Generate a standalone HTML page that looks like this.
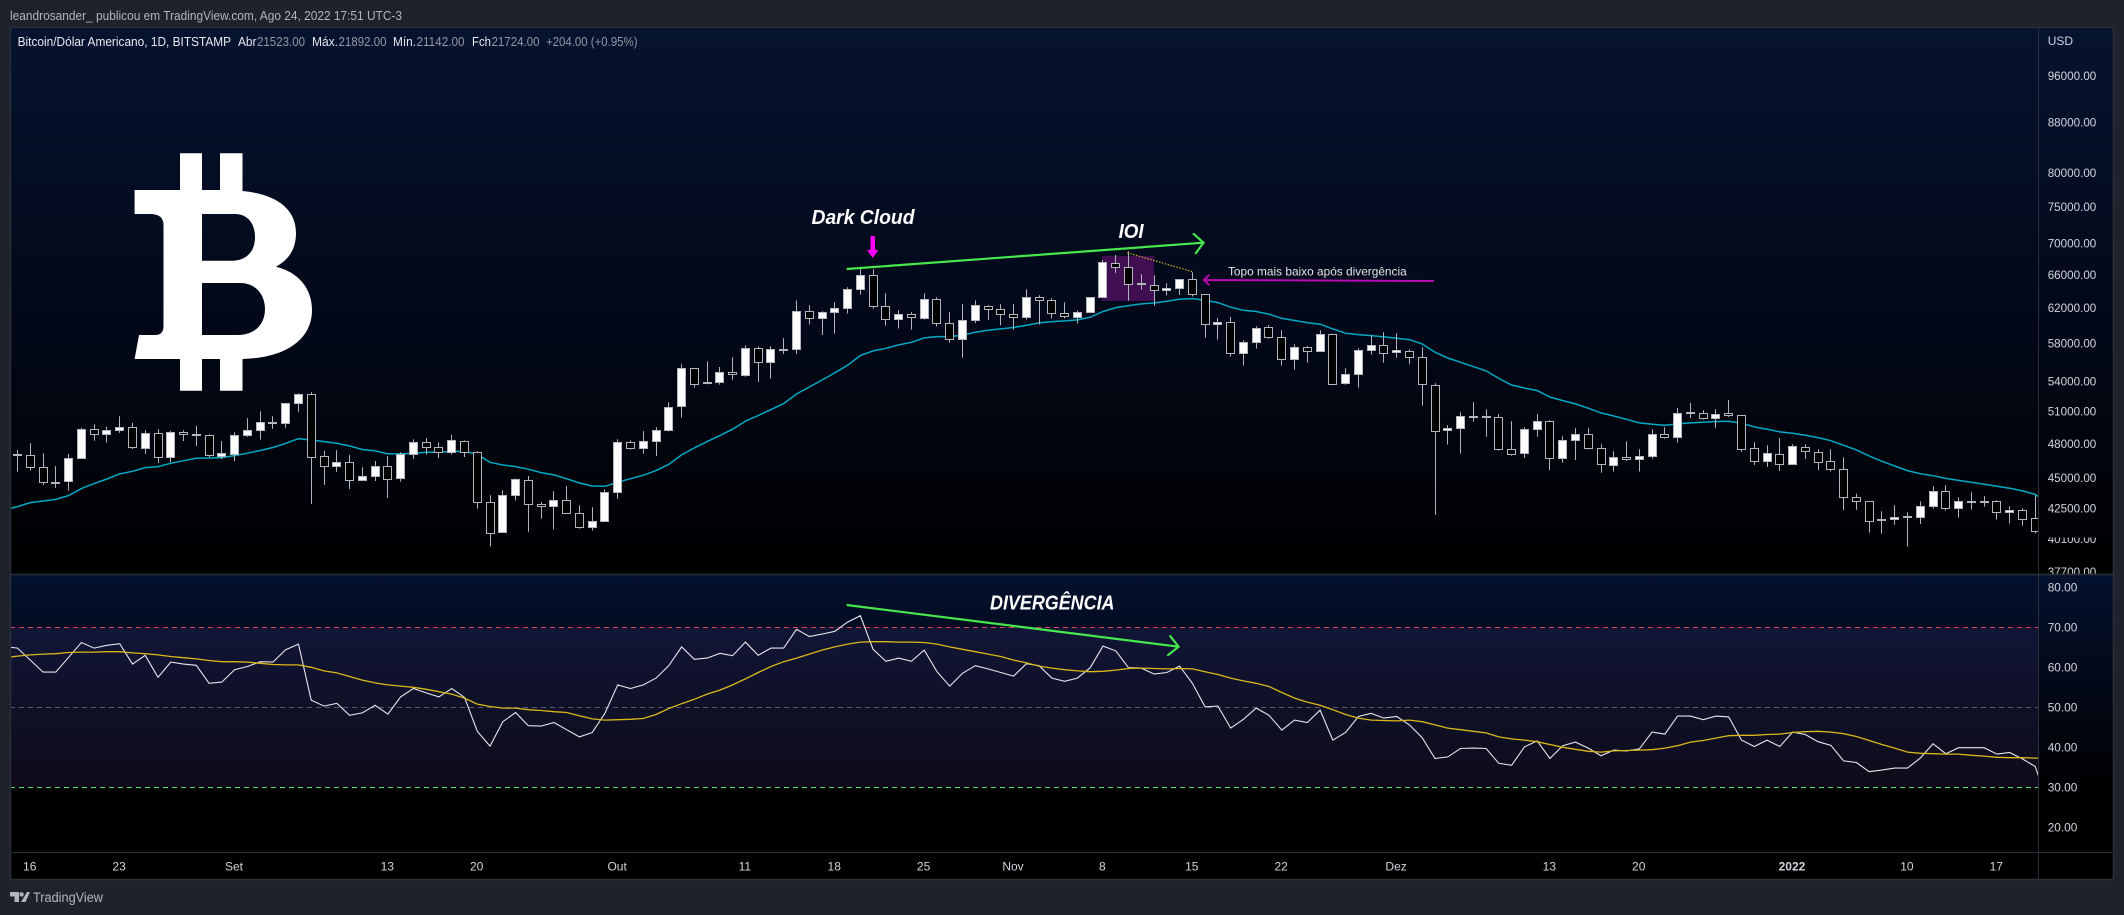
<!DOCTYPE html>
<html lang="pt">
<head>
<meta charset="utf-8">
<title>BTC/USD daily chart with RSI</title>
<style>
html,body{margin:0;padding:0;background:#1e222d;width:2124px;height:915px;overflow:hidden}
svg{display:block;font-family:"Liberation Sans",sans-serif}
</style>
</head>
<body>
<svg id="chart" xmlns="http://www.w3.org/2000/svg" width="2124" height="915" viewBox="0 0 2124 915">
<defs>
<linearGradient id="mainGrad" gradientUnits="userSpaceOnUse" x1="0" y1="27" x2="0" y2="574"><stop offset="0" stop-color="#06132f"/><stop offset="0.55" stop-color="#020818"/><stop offset="1" stop-color="#000"/></linearGradient>
<linearGradient id="rsiGrad" gradientUnits="userSpaceOnUse" x1="0" y1="574" x2="0" y2="853"><stop offset="0" stop-color="#04112e"/><stop offset="0.8" stop-color="#000"/><stop offset="1" stop-color="#000"/></linearGradient>
<clipPath id="plotClip"><rect x="10" y="28" width="2028" height="825"/></clipPath>
<clipPath id="mainClip"><rect x="10" y="28" width="2104" height="546"/></clipPath>
</defs>
<rect x="0" y="0" width="2124" height="915" fill="#1e222d"/>
<text x="10" y="20" font-size="13" fill="#b2b5be" textLength="392" lengthAdjust="spacingAndGlyphs">leandrosander_ publicou em TradingView.com, Ago 24, 2022 17:51 UTC-3</text>
<rect x="10" y="27" width="2104" height="547" fill="url(#mainGrad)"/>
<rect x="10" y="574" width="2104" height="279" fill="url(#rsiGrad)"/>
<rect x="10" y="853" width="2104" height="26" fill="#000"/>
<rect x="10" y="627.3" width="2028" height="160" fill="#7e57c2" fill-opacity="0.12"/>
<path fill="#fff" fill-rule="evenodd" d="M134.6,190 L180,190 L180,153.3 L202,153.3 L202,190 L220,190 L220,153.3 L242.5,153.3 L242.5,191 C275,194 296,208 296,233 C296,250 288,260 276,266.7 C298,272 312,288 312,310 C312,340 285,358 242.5,359 L242.5,390.7 L220,390.7 L220,359 L202,359 L202,390.7 L180,390.7 L180,359 L134.6,359 L139,335 L155,335 Q163.5,335 163.5,326 L163.5,225 Q163.5,214 150,214 L134.6,214 Z M202,214 L235,214 C248,214 255,224 255,237 C255,252 246,260.7 232,260.7 L202,260.7 Z M202,283 L240,283 C256,283 265,295 265,309 C265,325 254,335 238,335 L202,335 Z"/>
<g clip-path="url(#plotClip)">
<rect x="1102" y="256" width="52" height="45" fill="#3f0f52"/>
<line x1="10" y1="627.5" x2="2038" y2="627.5" stroke="#e0425a" stroke-width="1" stroke-dasharray="5 4"/>
<line x1="10" y1="707.5" x2="2038" y2="707.5" stroke="#5a5570" stroke-width="1" stroke-dasharray="5 4"/>
<line x1="10" y1="787.5" x2="2038" y2="787.5" stroke="#4be570" stroke-width="1" stroke-dasharray="5 4"/>
<g id="emaLayer"></g>
<g id="candleLayer"></g>
<g id="rsiLayer"></g>
</g>
<g id="priceAxis" clip-path="url(#mainClip)"></g>
<rect x="2040" y="526" width="72" height="11.5" fill="#010206"/>
<g id="rsiAxis"></g>
<g id="timeAxis"></g>
<text x="2047.7" y="45" font-size="12" fill="#d1d4dc">USD</text>
<rect x="10.5" y="27.5" width="2103" height="852" fill="none" stroke="#2a2e39" stroke-width="1.5"/>
<line x1="10" y1="574.5" x2="2114" y2="574.5" stroke="#2a2e39" stroke-width="1.5"/>
<line x1="10" y1="852.5" x2="2114" y2="852.5" stroke="#2a2e39"/>
<line x1="2038.5" y1="27" x2="2038.5" y2="879" stroke="#2a2e39"/>
<g font-size="12.5">
<text x="17.6" y="46" fill="#e8e9ee" textLength="213.5" lengthAdjust="spacingAndGlyphs">Bitcoin/Dólar Americano, 1D, BITSTAMP</text>
<text x="238" y="46" fill="#e8e9ee" textLength="18.5" lengthAdjust="spacingAndGlyphs">Abr</text>
<text x="257" y="46" fill="#9598a1" textLength="48" lengthAdjust="spacingAndGlyphs">21523.00</text>
<text x="312" y="46" fill="#e8e9ee" textLength="26" lengthAdjust="spacingAndGlyphs">Máx.</text>
<text x="338.5" y="46" fill="#9598a1" textLength="48" lengthAdjust="spacingAndGlyphs">21892.00</text>
<text x="393" y="46" fill="#e8e9ee" textLength="23" lengthAdjust="spacingAndGlyphs">Mín.</text>
<text x="416.5" y="46" fill="#9598a1" textLength="48" lengthAdjust="spacingAndGlyphs">21142.00</text>
<text x="472" y="46" fill="#e8e9ee" textLength="19" lengthAdjust="spacingAndGlyphs">Fch</text>
<text x="491.5" y="46" fill="#9598a1" textLength="48" lengthAdjust="spacingAndGlyphs">21724.00</text>
<text x="546" y="46" fill="#9598a1" textLength="91.5" lengthAdjust="spacingAndGlyphs">+204.00 (+0.95%)</text>
</g>
<g>
<text x="811.5" y="224" font-size="20" font-weight="bold" font-style="italic" fill="#fff" textLength="103" lengthAdjust="spacingAndGlyphs">Dark Cloud</text>
<text x="1118.6" y="238" font-size="20" font-weight="bold" font-style="italic" fill="#fff" textLength="25" lengthAdjust="spacingAndGlyphs">IOI</text>
<path d="M870.5,236 H875 V250 H878.5 L872.7,258 L867,250 H870.5 Z" fill="#ff00ff"/>
<path d="M846.7,269 L1203.5,242.7 M1193,233.3 L1203.5,242.7 L1195.3,254" fill="none" stroke="#46e84e" stroke-width="2.2"/>
<line x1="1127.3" y1="252.7" x2="1192.3" y2="271.7" stroke="#c9b02a" stroke-width="1.2" stroke-dasharray="1.5 1.5"/>
<path d="M1434,281 L1204,280 M1209.3,274.7 L1204,280 L1209.3,285.3" fill="none" stroke="#b60cb0" stroke-width="2"/>
<text x="1228" y="275.5" font-size="12" fill="#e4e4e8" textLength="178.7" lengthAdjust="spacingAndGlyphs">Topo mais baixo após divergência</text>
</g>
<g>
<path d="M846.7,605 L1178.6,646.7 M1169.6,635.3 L1178.6,646.7 L1167.3,655.7" fill="none" stroke="#46e84e" stroke-width="2.2"/>
<text x="990" y="609.5" font-size="20" font-weight="bold" font-style="italic" fill="#fff" textLength="124.5" lengthAdjust="spacingAndGlyphs">DIVERGÊNCIA</text>
</g>
<g>
<path fill="#b2b5be" d="M10,892 H19 V902 H14.5 V896.5 H10 Z M27,892 H30 L25.5,902 H21 Z"/>
<circle cx="21.6" cy="894.4" r="2.2" fill="#b2b5be"/>
<text x="33" y="902" font-size="13.5" fill="#b2b5be" textLength="70" lengthAdjust="spacingAndGlyphs">TradingView</text>
</g>
</svg>
<script>
// Candles start at bar index -1 (0 = Aug 16 2021)
const openPrices = [
46910,46910,45860,44610,44660,46640,49300,48810,49180,49490,
47530,48930,46730,49020,48840,48740,46820,47000,48710,49180,
49950,49860,51770,52660,46850,45950,46320,44750,45090,45980,
44920,47000,48100,47650,47180,48190,47210,42930,40570,43530,
44770,42770,42610,43090,42050,40960,41420,43750,48100,47530,
48160,49180,51450,55300,53860,53820,54890,54540,57430,55890,
57320,57320,61580,60740,61430,61930,64190,65900,62130,60620,
61240,60740,62980,60200,58400,60540,62170,61820,61240,60850,
63220,62860,61320,60850,61430,63220,67400,66900,64880,64640,
64070,64270,65400,63590,60090,60280,56850,58040,59760,58590,
56210,57500,57070,58930,53720,54640,57210,57720,57000,57070,
56460,53560,49210,49400,50520,50520,50430,47480,47120,49270,
50050,46670,48280,48840,47570,46060,46760,46550,46820,48840,
48530,50840,50810,50300,50810,50620,47570,46380,47030,46120,
47650,47210,46410,45720,43360,43030,41600,41580,41790,41740,
42610,43860,42450,43060,43060,43030,42130,42320,41680];
const highPrices = [
47420,48010,47120,45980,47060,49430,49770,49520,50520,49890,
49210,49300,49150,49210,49610,48840,48220,49020,50330,51000,
50520,51770,52760,52860,47330,47390,46970,45890,46430,46880,
47210,48370,48470,48100,48780,48280,47300,43530,43940,44940,
45140,42960,43860,44300,42720,42560,44020,48370,48280,49120,
49490,51870,55720,55300,56030,55440,56460,57750,57610,57650,
58520,62860,62280,61580,62630,64430,66780,66650,63710,61700,
61470,63710,63220,61470,62400,62860,62280,62400,62400,64190,
63470,63100,62630,61660,63220,67820,68470,68950,66030,65900,
64920,65400,66280,63590,60810,60920,58290,59870,59980,59420,
57860,57650,59420,59040,55300,57430,58860,59190,59080,57320,
57540,53760,49670,50910,51870,51190,50730,50050,49490,50750,
50140,48650,49400,49400,47920,47300,48190,47480,49300,49490,
51320,51800,51100,51190,52090,50620,48100,47830,48470,47920,
47920,47480,47480,46760,43670,43030,42240,42720,42160,43030,
44270,44360,43360,43780,43450,43110,42640,42480,43530];
const lowPrices = [
45520,45600,44390,44140,43910,46640,48250,48070,48960,47500,
47060,46260,46320,48220,47770,46790,46610,46430,48590,48340,
49330,49430,50940,42820,44390,45490,44050,44750,44720,43310,
44660,46610,47000,46700,47000,46790,42450,39510,40570,43090,
40630,41660,40810,42050,40880,40730,41420,43250,47450,47090,
46880,49090,50390,53320,53660,53620,54120,54440,53920,54230,
56820,56820,60060,58890,59040,61320,63550,61890,59940,59610,
59490,60620,59830,58040,56420,60210,60580,59980,59490,60620,
60060,60740,60740,60170,61430,63220,66190,62820,64150,62240,
63430,63510,63310,58590,58370,56530,55580,57390,58480,55580,
55160,55890,57070,53560,53620,53320,56750,55890,56420,55720,
51550,41950,47900,47090,50020,48620,47360,46910,46700,48620,
45660,46290,46520,47450,45430,45520,46460,45520,46640,48430,
48070,50360,50200,49430,50460,47240,46090,45920,45570,46120,
46610,45660,45520,42350,42350,40570,40500,41190,39510,41240,
42450,42290,41740,42370,42610,41580,41270,41110,40500];
const closePrices = [
47030,45860,44580,44500,46670,49300,48810,49210,49490,47630,
48930,46730,49020,48810,48710,46910,47120,48740,49210,49950,
49830,51770,52660,46730,45950,46320,44750,45110,45980,44830,
47030,48100,47630,47180,48280,47180,42930,40500,43530,44860,
42770,42610,43090,42050,40960,41420,43780,48100,47530,48190,
49180,51390,55300,53660,53720,54890,54640,57430,55890,57320,
57290,61580,60740,61470,61930,64190,65900,62130,60660,61240,
60850,62980,60200,58400,60540,62280,61820,61240,60850,63220,
62860,61320,60970,61430,63220,67530,66900,64760,64800,64030,
64270,65400,63550,60060,60280,56850,58040,59640,58630,56210,
57500,57110,58930,53620,54640,57180,57720,56850,57180,56460,
53660,49090,49400,50490,50430,50430,47480,47000,49300,50050,
46670,48280,48840,47540,46120,46760,46550,46850,48840,48560,
50810,50780,50270,50710,50620,47450,46380,47120,46120,47740,
47270,46290,45690,43330,43010,41420,41500,41760,41740,42640,
43860,42450,43030,43010,43010,42130,42320,41580,40650];
// Line series start at bar index -2
const emaValues = [
42350,42610,42930,43060,43190,43500,44080,44500,44890,45320,
45540,45860,45950,46230,46460,46670,46700,46730,46910,47120,
47360,47630,48010,48430,48310,48160,48010,47770,47450,47330,
47060,47060,47120,47210,47210,47300,47270,47030,46320,46090,
45950,
45720,45430,45230,44910,44550,44300,44270,44610,44910,45200,
45600,46150,46970,47600,48160,48710,49300,50050,50590,51160,
51740,52690,53390,54090,54820,55620,56640,57140,57430,57790,
58080,58560,58710,58710,58860,59190,59420,59570,59720,59980,
60240,60390,60470,60580,60890,61550,62010,62240,62440,62550,
62750,62980,63060,62860,62590,62050,61700,61550,61240,60770,
60510,60280,60090,59570,59080,58930,58820,58670,58520,58370,
57900,57000,56390,55930,55480,55030,54260,53590,53290,53020,
52390,52030,51710,51290,50840,50550,50230,49890,49770,49670,
49800,49890,49950,50020,50050,49860,49520,49300,49050,48930,
48740,48530,48250,47830,47420,46880,46410,46000,45600,45340,
45170,44940,44770,44610,44440,44270,44110,43890,43610,42800];
const rsiValues = [
65.2,64.8,61.8,58.8,58.8,62.5,66.2,64.8,65.5,65.9,
60.8,63.0,57.5,61.3,60.8,60.5,56.0,56.3,59.4,60.2,
61.4,61.3,64.4,65.8,51.8,50.3,51.0,48.0,48.6,50.5,
48.3,52.6,54.7,53.6,52.6,54.7,52.5,44.0,40.3,46.4,
48.7,45.4,45.3,46.2,44.4,42.6,43.7,48.5,55.6,54.7,
55.6,57.3,60.4,65.1,62.0,62.3,63.5,62.9,66.3,63.0,
64.8,64.8,69.5,67.7,68.3,69.0,71.3,72.9,64.5,61.5,
62.3,61.5,64.3,58.9,55.3,58.5,60.4,59.6,58.7,57.8,
60.9,60.4,57.3,56.5,57.3,59.9,65.3,64.1,59.9,59.8,
58.3,58.7,60.3,56.0,50.1,50.3,44.8,47.0,49.8,48.0,
44.3,46.8,46.2,49.3,41.8,43.7,47.7,48.5,47.3,47.7,
45.6,42.4,37.2,37.6,39.7,39.8,39.7,36.0,35.5,40.1,
41.6,37.2,40.4,41.3,39.8,37.9,39.3,39.1,39.6,43.8,
43.3,47.8,47.8,46.9,47.8,47.6,41.8,40.2,41.8,40.2,
43.8,43.2,41.4,40.5,36.6,36.2,33.9,34.3,34.8,34.8,
37.3,40.9,38.4,39.9,39.9,39.9,38.3,38.7,37.1,35.2,
26.0];
const rsiMaValues = [
62.4,62.8,63.1,63.3,63.4,63.7,63.8,63.8,63.9,63.9,
63.6,63.4,63.1,62.7,62.4,62.1,61.7,61.4,61.4,61.3,
61.0,60.7,60.6,60.6,60.0,59.1,58.6,57.7,56.8,56.1,
55.6,55.3,55.0,54.5,53.9,53.3,52.3,50.8,50.2,49.8,
49.8,49.4,49.2,48.9,48.7,47.9,47.1,46.8,46.9,47.0,
47.2,48.2,49.7,50.9,52.0,53.3,54.3,55.6,57.1,58.7,
60.2,61.4,62.3,63.3,64.3,65.1,65.8,66.3,66.4,66.4,
66.3,66.3,66.2,65.8,65.1,64.5,63.9,63.3,62.7,61.8,
61.1,60.3,59.8,59.4,59.1,58.9,59.0,59.3,59.7,59.8,
59.7,59.6,59.7,59.6,58.9,58.2,57.3,56.6,56.0,55.2,
53.7,52.3,51.3,50.5,49.4,48.2,47.3,46.8,46.7,46.6,
46.8,46.4,45.6,44.8,44.4,44.0,43.6,42.6,42.1,41.8,
41.4,40.7,40.0,39.5,39.0,38.8,39.1,39.2,39.3,39.4,
39.8,40.4,41.3,41.7,42.3,42.9,43.0,43.0,43.2,43.3,
43.7,43.9,44.0,43.8,43.4,42.7,41.7,40.7,39.8,38.8,
38.5,38.4,38.3,38.3,38.0,37.8,37.5,37.4,37.4,37.3,
37.3];
const priceTicks = [96000,88000,80000,75000,70000,66000,62000,58000,54000,51000,48000,45000,42500,40100,37700];
const rsiTicks = [80,70,60,50,40,30,20];
const timeTickLabels = ["16","23","Set","13","20","Out","11","18","25","Nov","8","15","22","Dez","13","20","2022","10","17"];
const timeTickBars = [0,7,16,28,35,46,56,63,70,77,84,91,98,107,119,126,138,147,154];

const NS = "http://www.w3.org/2000/svg";
const firstCandleBar = -1;
const firstLineBar = -2;
function barX(i){ return 30.3 + 12.77 * i; }
function priceY(p){ return 75.7 + 530.5 * Math.log(96000 / p); }
function rsiY(v){ return 627.3 + (70 - v) * 4; }
function snap(v){ return Math.round(v - 0.5) + 0.5; }
function make(tag, attrs, parent){
  const el = document.createElementNS(NS, tag);
  for (const k in attrs) el.setAttribute(k, attrs[k]);
  parent.appendChild(el);
  return el;
}

const candleLayer = document.getElementById("candleLayer");
openPrices.forEach(function(open, n){
  const close = closePrices[n];
  const cx = snap(barX(n + firstCandleBar));
  const top = snap(priceY(Math.max(open, close)));
  const bottom = snap(priceY(Math.min(open, close)));
  const wick = make("line", {x1:cx, x2:cx, y1:priceY(highPrices[n]), y2:priceY(lowPrices[n]), stroke:"#b2b5be", "stroke-width":1}, candleLayer);
  
  
  const body = make("rect", {x:cx - 4, y:top, width:8, height:Math.max(bottom - top, 1), fill: close >= open ? "#ffffff" : "#000000", stroke:"#b2b5be", "stroke-width":1}, candleLayer);
  
  
});

function linePoints(values, yFn){
  return values.map(function(v, n){ return barX(n + firstLineBar).toFixed(1) + "," + yFn(v).toFixed(1); }).join(" ");
}
const emaLine = make("polyline", {points:linePoints(emaValues, priceY), fill:"none", stroke:"#00a9c4", "stroke-width":1.5}, document.getElementById("emaLayer"));


const rsiLayer = document.getElementById("rsiLayer");
const rsiLine = make("polyline", {points:linePoints(rsiValues, rsiY), fill:"none", stroke:"#e6e6ea", "stroke-width":1.1}, rsiLayer);


const rsiMaLine = make("polyline", {points:linePoints(rsiMaValues, rsiY), fill:"none", stroke:"#d9b81a", "stroke-width":1.3}, rsiLayer);



const priceAxis = document.getElementById("priceAxis");
priceTicks.forEach(function(p){
  const t = make("text", {x:2047.7, y:priceY(p) + 4.4, "font-size":12, fill:"#d1d4dc", textLength:48.6, lengthAdjust:"spacingAndGlyphs"}, priceAxis);
  t.textContent = p.toFixed(2);
  
  
});
const rsiAxis = document.getElementById("rsiAxis");
rsiTicks.forEach(function(v){
  const t = make("text", {x:2047.7, y:rsiY(v) + 4.2, "font-size":12, fill:"#d1d4dc", textLength:29.6, lengthAdjust:"spacingAndGlyphs"}, rsiAxis);
  t.textContent = v.toFixed(2);
  
  
});
const timeAxis = document.getElementById("timeAxis");
timeTickLabels.forEach(function(label, n){
  const t = make("text", {x:barX(timeTickBars[n]) - 0.6, y:870.4, "font-size":12, fill:"#d1d4dc", "text-anchor":"middle"}, timeAxis);
  t.textContent = label;
  if (label === "2022") t.setAttribute("font-weight", "bold");
  
  
});
</script>
</body>
</html>
